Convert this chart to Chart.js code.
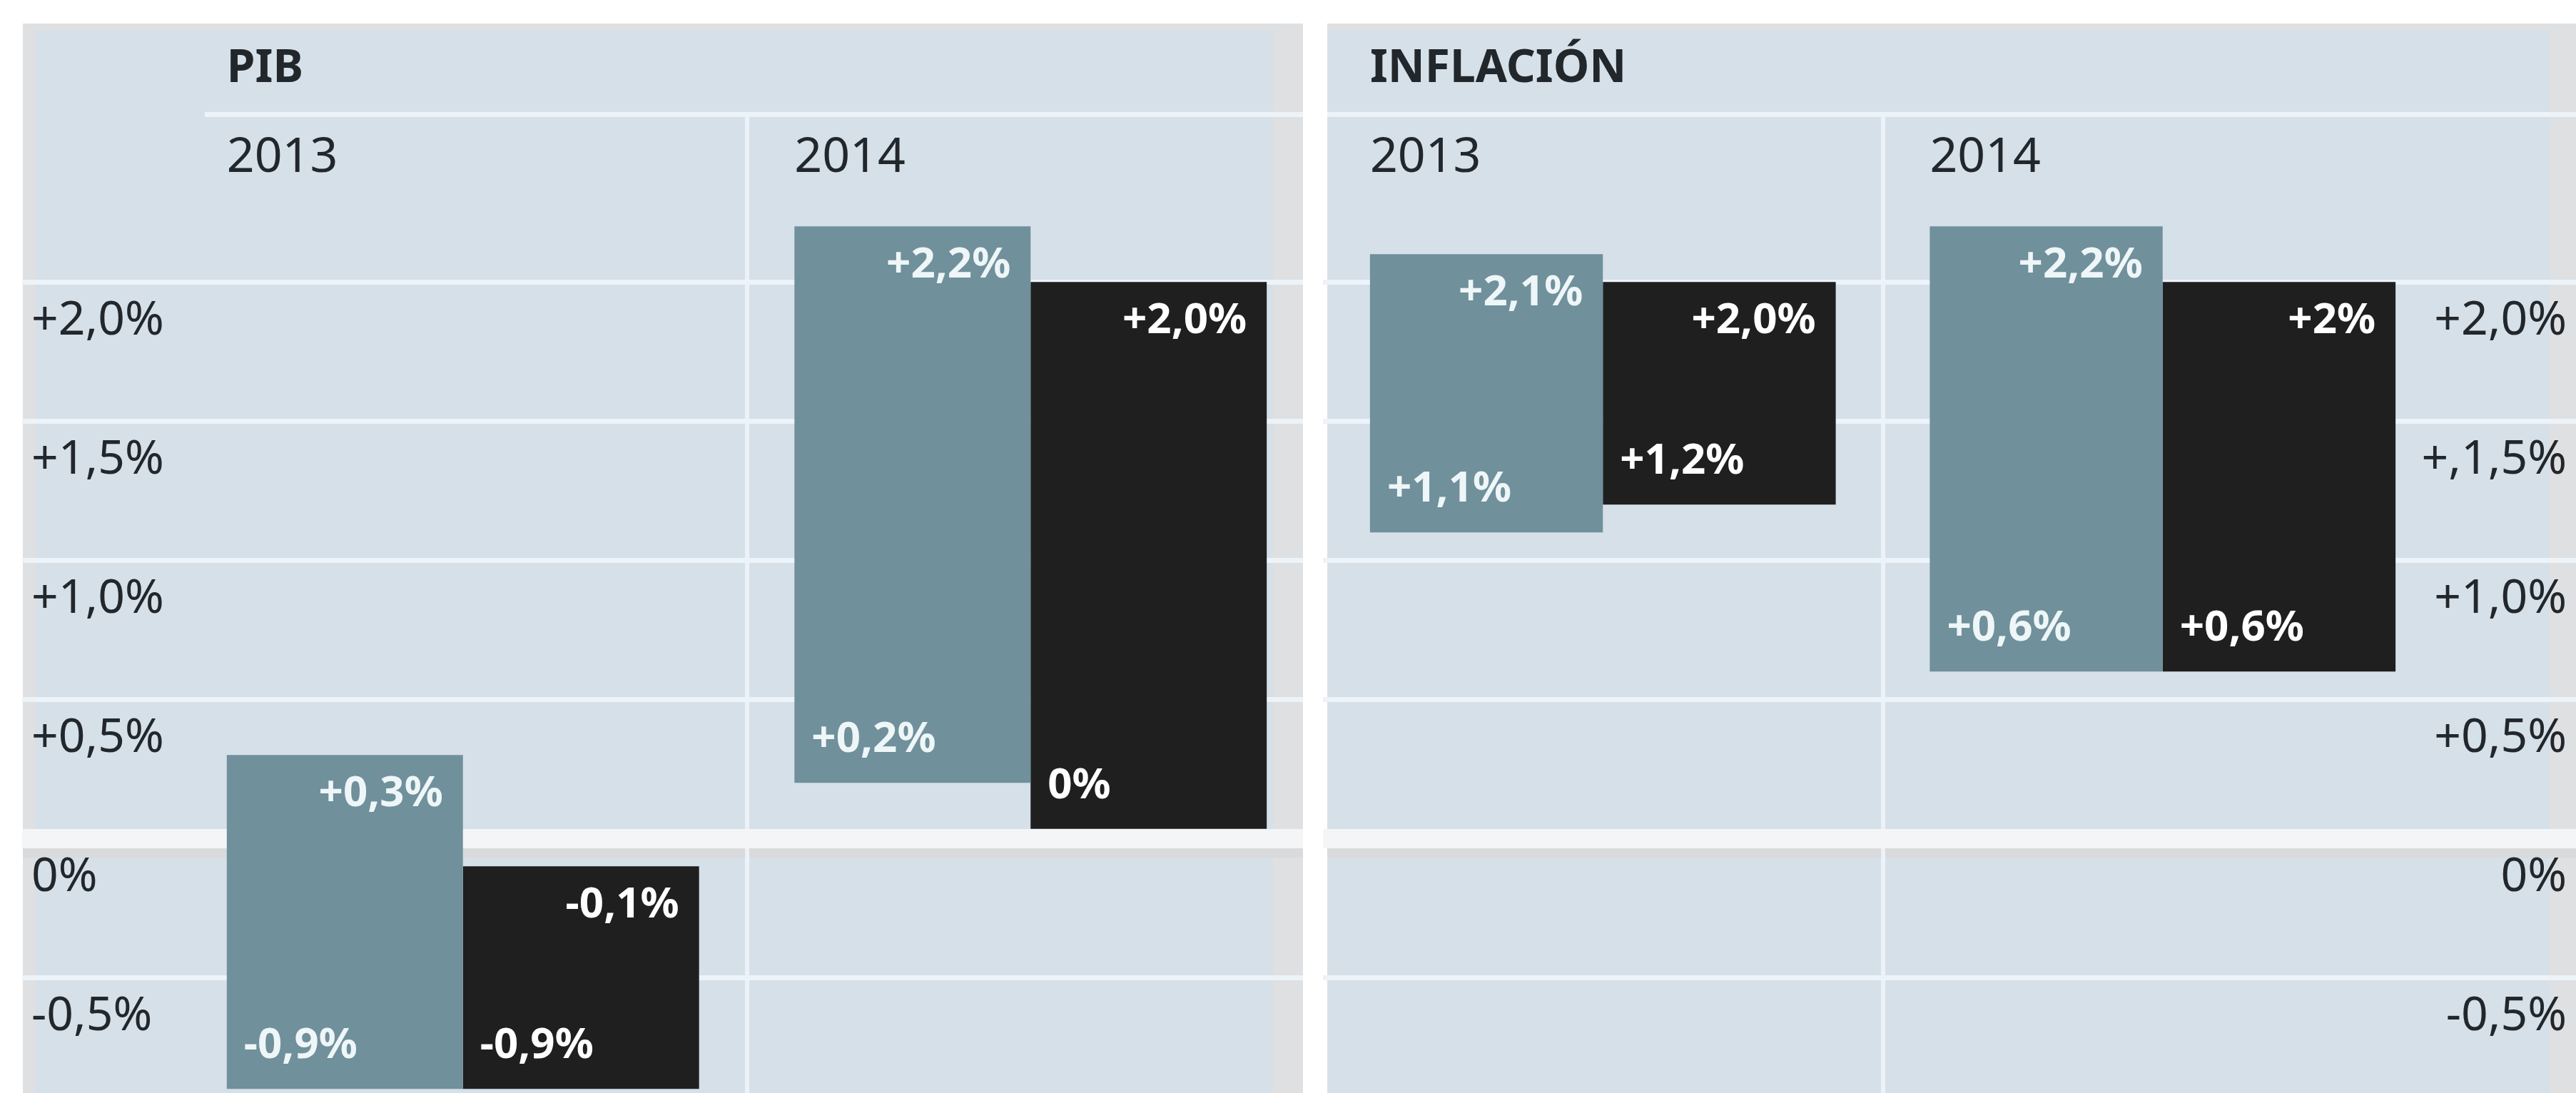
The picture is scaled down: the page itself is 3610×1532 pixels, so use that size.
<!DOCTYPE html>
<html><head><meta charset="utf-8">
<script src="https://cdn.jsdelivr.net/npm/chart.js@4.4.1/dist/chart.umd.min.js"></script>
<style>
html,body{margin:0;padding:0;background:#fff;width:3610px;height:1532px;overflow:hidden}
#c1{position:absolute;left:0;top:0}
#c2{position:absolute;left:1854px;top:0}
</style></head><body>
<canvas id="c1" width="1842" height="1532"></canvas>
<canvas id="c2" width="1756" height="1532"></canvas>
<script>
// ---- data ----
const years = ['2013', '2014'];
const pibTitle = 'PIB';
const inflTitle = 'INFLACIÓN';

const pibGrayLow   = [-0.9, 0.2];
const pibGrayHigh  = [0.3, 2.2];
const pibBlackLow  = [-0.9, 0.0];
const pibBlackHigh = [-0.1, 2.0];

const inflGrayLow   = [1.1, 0.6];
const inflGrayHigh  = [2.1, 2.2];
const inflBlackLow  = [1.2, 0.6];
const inflBlackHigh = [2.0, 2.0];

const pibGrayTopText     = ['+0,3%', '+2,2%'];
const pibGrayBottomText  = ['-0,9%', '+0,2%'];
const pibBlackTopText    = ['-0,1%', '+2,0%'];
const pibBlackBottomText = ['-0,9%', '0%'];

const inflGrayTopText     = ['+2,1%', '+2,2%'];
const inflGrayBottomText  = ['+1,1%', '+0,6%'];
const inflBlackTopText    = ['+2,0%', '+2%'];
const inflBlackBottomText = ['+1,2%', '+0,6%'];

const yTicks = [-0.5, 0, 0.5, 1.0, 1.5, 2.0];
const pibTickLabels  = ['-0,5%', '0%', '+0,5%', '+1,0%', '+1,5%', '+2,0%'];
const inflTickLabels = ['-0,5%', '0%', '+0,5%', '+1,0%', '+,1,5%', '+2,0%'];

const yMin = -0.915;
const yMax = 2.603;

// ---- style ----
const FONT = "'Noto Sans', 'Open Sans', 'DejaVu Sans', sans-serif";
const COL = {
  bg: '#d6e0e8', frame: '#dfe0e2', grid: '#ecf3f9', zero: '#f4f5f6', shadow: '#d9dadc',
  gray: '#70909b', black: '#1f1f1f', text: '#22272c', grayLabel: '#eef6f8', blackLabel: '#ffffff'
};

const zip = (a, b) => a.map((v, i) => [v, b[i]]);

function panelPlugin(o) {
  return {
    id: 'panel',
    afterLayout(chart) {
      // let right-hand tick labels extend over the plot edge without being clipped
      if (o.labelRoom) chart.scales.y.left -= o.labelRoom;
    },
    beforeDraw(chart) {
      const ctx = chart.ctx, ys = chart.scales.y;
      ctx.save();
      ctx.fillStyle = COL.frame;
      ctx.fillRect(o.frame[0], 33, o.frame[1] - o.frame[0], 1532 - 33);
      ctx.fillStyle = COL.bg;
      ctx.fillRect(o.inner[0], 42, o.inner[1] - o.inner[0], 1532 - 42);
      const z = ys.getPixelForValue(0);
      ctx.fillStyle = COL.shadow;
      ctx.fillRect(o.frame[0], z + 12, o.frame[1] - o.frame[0], 15);
      ctx.restore();
    },
    beforeDatasetsDraw(chart) {
      const ctx = chart.ctx, ca = chart.chartArea;
      ctx.save();
      ctx.fillStyle = COL.grid;
      ctx.fillRect(o.head[0], ca.top - 3, o.head[1] - o.head[0], 7);
      const meta = chart.getDatasetMeta(0);
      ctx.fillStyle = COL.text;
      ctx.textBaseline = 'middle';
      ctx.textAlign = 'left';
      ctx.font = `bold 64px ${FONT}`;
      const b0 = meta.data[0];
      ctx.fillText(o.title, b0.x - b0.width / 2, 97);
      ctx.font = `68px ${FONT}`;
      chart.data.labels.forEach((lab, i) => {
        const b = meta.data[i];
        ctx.fillText(lab, b.x - b.width / 2, 222);
      });
      ctx.restore();
    },
    afterDatasetsDraw(chart) {
      const ctx = chart.ctx;
      ctx.save();
      ctx.textBaseline = 'middle';
      ctx.font = `bold 60px ${FONT}`;
      chart.data.datasets.forEach((ds, di) => {
        const meta = chart.getDatasetMeta(di);
        meta.data.forEach((bar, i) => {
          const top = Math.min(bar.y, bar.base), bot = Math.max(bar.y, bar.base);
          const l = bar.x - bar.width / 2, r = bar.x + bar.width / 2;
          ctx.fillStyle = ds.labelColor;
          ctx.textAlign = 'right';
          ctx.fillText(ds.topText[i], r - 28, top + 55);
          ctx.textAlign = 'left';
          ctx.fillText(ds.bottomText[i], l + 24, bot - 60);
        });
      });
      ctx.restore();
    },
    afterDraw(chart) {
      if (o.clearFrom != null) chart.ctx.clearRect(o.clearFrom, 0, chart.width - o.clearFrom, chart.height);
    }
  };
}

function makeChart(el, cfg) {
  return new Chart(el, {
    type: 'bar',
    data: {
      labels: years,
      datasets: [
        { data: zip(cfg.grayLow, cfg.grayHigh), backgroundColor: COL.gray, borderWidth: 0,
          barPercentage: 1, categoryPercentage: 0.832,
          topText: cfg.grayTop, bottomText: cfg.grayBottom, labelColor: COL.grayLabel },
        { data: zip(cfg.blackLow, cfg.blackHigh), backgroundColor: COL.black, borderWidth: 0,
          barPercentage: 1, categoryPercentage: 0.832,
          topText: cfg.blackTop, bottomText: cfg.blackBottom, labelColor: COL.blackLabel }
      ]
    },
    options: {
      responsive: false,
      animation: false,
      devicePixelRatio: 1,
      layout: { padding: cfg.padding },
      plugins: { legend: { display: false }, tooltip: { enabled: false } },
      scales: {
        x: {
          display: true, offset: true,
          afterFit: s => { s.height = 0; s.paddingLeft = 0; s.paddingRight = 0; },
          ticks: { display: false, padding: 0 },
          border: { display: false },
          grid: {
            offset: true, drawTicks: false, lineWidth: 6,
            color: c => (c.index === 1 ? '#edf1f8' : 'rgba(0,0,0,0)')
          }
        },
        y: {
          position: cfg.axisPos,
          min: yMin, max: yMax,
          afterBuildTicks: s => { s.ticks = yTicks.map(v => ({ value: v })); },
          afterFit: s => { s.width = cfg.axisWidth; s.paddingTop = 0; s.paddingBottom = 0; },
          border: { display: false },
          ticks: {
            callback: v => cfg.tickLabels[yTicks.indexOf(v)],
            crossAlign: 'far',
            labelOffset: 55,
            padding: 0,
            autoSkip: false,
            color: COL.text,
            font: { family: FONT, size: 66 }
          },
          grid: {
            drawTicks: true,
            tickLength: cfg.tickLength,
            color: c => (c.tick && c.tick.value === 0 ? COL.zero : COL.grid),
            lineWidth: c => (c.tick && c.tick.value === 0 ? 27 : 7)
          }
        }
      }
    },
    plugins: [panelPlugin(cfg.panel)]
  });
}

makeChart(document.getElementById('c1'), {
  grayLow: pibGrayLow, grayHigh: pibGrayHigh, blackLow: pibBlackLow, blackHigh: pibBlackHigh,
  grayTop: pibGrayTopText, grayBottom: pibGrayBottomText, blackTop: pibBlackTopText, blackBottom: pibBlackBottomText,
  tickLabels: pibTickLabels, axisPos: 'left', axisWidth: 207, tickLength: 220,
  padding: { top: 160, left: 44, right: 0, bottom: 0 },
  panel: { frame: [32, 1826], inner: [50, 1784], head: [287, 1826], title: pibTitle, clearFrom: 1826, labelRoom: 0 }
});

makeChart(document.getElementById('c2'), {
  grayLow: inflGrayLow, grayHigh: inflGrayHigh, blackLow: inflBlackLow, blackHigh: inflBlackHigh,
  grayTop: inflGrayTopText, grayBottom: inflGrayBottomText, blackTop: inflBlackTopText, blackBottom: inflBlackBottomText,
  tickLabels: inflTickLabels, axisPos: 'right', axisWidth: 174, tickLength: 300,
  padding: { top: 160, left: 0, right: 13, bottom: 0 },
  panel: { frame: [6, 1756], inner: [8, 1719], head: [6, 1756], title: inflTitle, clearFrom: null, labelRoom: 80 }
});
</script>
</body></html>
